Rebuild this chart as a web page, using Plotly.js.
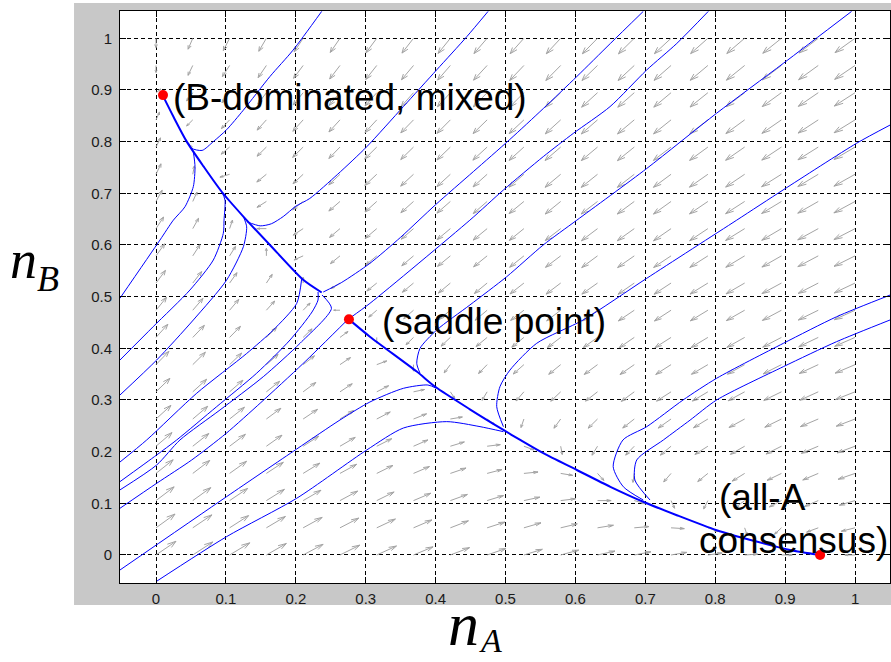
<!DOCTYPE html>
<html><head><meta charset="utf-8">
<script src="https://cdn.plot.ly/plotly-3.0.1.min.js"></script>
<style>html,body{margin:0;padding:0;background:#fff;}#chart{width:891px;height:662px;}</style>
</head><body><div id="chart"></div>
<script>
// ---- quiver grid (base points) ----
const gridX = [0,0.0526,0.1053,0.1579,0.2105,0.2632,0.3158,0.3684,0.4211,0.4737,0.5263,0.5789,0.6316,0.6842,0.7368,0.7895,0.8421,0.8947,0.9474,1];
const gridY = [0,0.0526,0.1053,0.1579,0.2105,0.2632,0.3158,0.3684,0.4211,0.4737,0.5263,0.5789,0.6316,0.6842,0.7368,0.7895,0.8421,0.8947,0.9474,1];
// arrow components, one row per gridY value
const arrowU = [
[.97,.92,.87,.81,.76,.70,.65,.60,.54,.49,.43,.38,.33,.27,.22,.16,.11,.06,.00,-.05],
[.87,.82,.76,.71,.66,.60,.55,.50,.44,.39,.33,.28,.23,.17,.12,.06,.01,-.04,-.10,-.15],
[.78,.72,.67,.62,.56,.51,.45,.40,.35,.29,.24,.18,.13,.08,.02,-.03,-.09,-.14,-.19,-.25],
[.69,.63,.58,.53,.47,.42,.36,.31,.26,.20,.15,.09,.04,-.01,-.07,-.12,-.18,-.23,-.28,-.34],
[.60,.55,.49,.44,.39,.33,.28,.22,.17,.12,.06,.01,-.05,-.10,-.15,-.21,-.26,-.31,-.37,-.42],
[.52,.47,.42,.36,.31,.25,.20,.15,.09,.04,-.02,-.07,-.12,-.18,-.23,-.29,-.34,-.39,-.45,-.50],
[.45,.40,.34,.29,.23,.18,.13,.07,.02,-.04,-.09,-.14,-.20,-.25,-.31,-.36,-.41,-.47,-.52,-.58],
[.38,.33,.27,.22,.17,.11,.06,.00,-.05,-.10,-.16,-.21,-.27,-.32,-.37,-.43,-.48,-.54,-.59,-.64],
[.32,.27,.21,.16,.10,.05,.00,-.06,-.11,-.17,-.22,-.27,-.33,-.38,-.44,-.49,-.54,-.60,-.65,-.71],
[.26,.21,.15,.10,.05,-.01,-.06,-.12,-.17,-.22,-.28,-.33,-.38,-.44,-.49,-.55,-.60,-.65,-.71,-.76],
[.21,.16,.10,.05,.00,-.06,-.11,-.17,-.22,-.27,-.33,-.38,-.44,-.49,-.54,-.60,-.65,-.71,-.76,-.81],
[.17,.11,.06,.00,-.05,-.10,-.16,-.21,-.27,-.32,-.37,-.43,-.48,-.54,-.59,-.64,-.70,-.75,-.81,-.86],
[.13,.07,.02,-.04,-.09,-.14,-.20,-.25,-.31,-.36,-.41,-.47,-.52,-.58,-.63,-.68,-.74,-.79,-.85,-.90],
[.09,.04,-.02,-.07,-.13,-.18,-.23,-.29,-.34,-.39,-.45,-.50,-.56,-.61,-.66,-.72,-.77,-.83,-.88,-.93],
[.06,.01,-.05,-.10,-.15,-.21,-.26,-.32,-.37,-.42,-.48,-.53,-.59,-.64,-.69,-.75,-.80,-.86,-.91,-.96],
[.04,-.02,-.07,-.12,-.18,-.23,-.29,-.34,-.39,-.45,-.50,-.56,-.61,-.66,-.72,-.77,-.83,-.88,-.93,-.99],
[.02,-.03,-.09,-.14,-.20,-.25,-.30,-.36,-.41,-.47,-.52,-.57,-.63,-.68,-.74,-.79,-.84,-.90,-.95,-1.01],
[.01,-.05,-.10,-.15,-.21,-.26,-.32,-.37,-.42,-.48,-.53,-.59,-.64,-.69,-.75,-.80,-.86,-.91,-.96,-1.02],
[.00,-.05,-.11,-.16,-.22,-.27,-.32,-.38,-.43,-.49,-.54,-.59,-.65,-.70,-.76,-.81,-.86,-.92,-.97,-1.02],
[.00,-.06,-.11,-.16,-.22,-.27,-.33,-.38,-.43,-.49,-.54,-.59,-.65,-.70,-.76,-.81,-.86,-.92,-.97,-1.03]];
const arrowV = [
[.90,.81,.71,.63,.55,.47,.40,.34,.28,.23,.18,.14,.10,.07,.05,.03,.01,.00,.00,.00],
[.85,.75,.66,.57,.49,.42,.35,.29,.23,.17,.13,.09,.05,.02,-.01,-.03,-.04,-.05,-.05,-.05],
[.80,.70,.61,.52,.44,.37,.30,.23,.17,.12,.07,.03,.00,-.03,-.06,-.08,-.09,-.10,-.11,-.10],
[.74,.65,.56,.47,.39,.31,.24,.18,.12,.07,.02,-.02,-.06,-.09,-.11,-.13,-.15,-.15,-.16,-.16],
[.69,.59,.50,.42,.34,.26,.19,.13,.07,.02,-.03,-.07,-.11,-.14,-.17,-.18,-.20,-.21,-.21,-.21],
[.64,.54,.45,.36,.28,.21,.14,.08,.02,-.04,-.08,-.13,-.16,-.19,-.22,-.24,-.25,-.26,-.26,-.26],
[.59,.49,.40,.31,.23,.16,.09,.02,-.04,-.09,-.14,-.18,-.21,-.25,-.27,-.29,-.30,-.31,-.32,-.31],
[.53,.44,.35,.26,.18,.10,.03,-.03,-.09,-.14,-.19,-.23,-.27,-.30,-.32,-.34,-.36,-.37,-.37,-.37],
[.48,.38,.29,.21,.13,.05,-.02,-.08,-.14,-.19,-.24,-.28,-.32,-.35,-.38,-.40,-.41,-.42,-.42,-.42],
[.43,.33,.24,.15,.07,.00,-.07,-.14,-.19,-.25,-.29,-.34,-.37,-.40,-.43,-.45,-.46,-.47,-.47,-.47],
[.38,.28,.19,.10,.02,-.05,-.12,-.19,-.25,-.30,-.35,-.39,-.42,-.46,-.48,-.50,-.51,-.52,-.53,-.52],
[.32,.23,.13,.05,-.03,-.11,-.18,-.24,-.30,-.35,-.40,-.44,-.48,-.51,-.53,-.55,-.57,-.58,-.58,-.58],
[.27,.17,.08,.00,-.08,-.16,-.23,-.29,-.35,-.40,-.45,-.49,-.53,-.56,-.59,-.61,-.62,-.63,-.63,-.63],
[.22,.12,.03,-.06,-.14,-.21,-.28,-.35,-.40,-.46,-.50,-.55,-.58,-.61,-.64,-.66,-.67,-.68,-.68,-.68],
[.17,.07,-.02,-.11,-.19,-.27,-.33,-.40,-.46,-.51,-.56,-.60,-.64,-.67,-.69,-.71,-.73,-.73,-.74,-.73],
[.11,.02,-.08,-.16,-.24,-.32,-.39,-.45,-.51,-.56,-.61,-.65,-.69,-.72,-.74,-.76,-.78,-.79,-.79,-.79],
[.06,-.04,-.13,-.21,-.30,-.37,-.44,-.50,-.56,-.62,-.66,-.70,-.74,-.77,-.80,-.82,-.83,-.84,-.84,-.84],
[.01,-.09,-.18,-.27,-.35,-.42,-.49,-.56,-.62,-.67,-.72,-.76,-.79,-.82,-.85,-.87,-.88,-.89,-.89,-.89],
[-.04,-.14,-.23,-.32,-.40,-.48,-.55,-.61,-.67,-.72,-.77,-.81,-.85,-.88,-.90,-.92,-.94,-.94,-.95,-.94],
[-.10,-.19,-.29,-.37,-.45,-.53,-.60,-.66,-.72,-.77,-.82,-.86,-.90,-.93,-.95,-.97,-.99,-1.00,-1.00,-1.00]];

// ---- trajectories ----
const t1x = [0.237,0.196,0.163,0.125,0.101,0.082,0.066,0.051,0.046];
const t1y = [1.052,0.977,0.926,0.861,0.823,0.800,0.783,0.787,0.797];
const t2x = [0.475,0.4445,0.4016,0.354,0.3014,0.26,0.22,0.20,0.182,0.165,0.149,0.13];
const t2y = [1.052,1.003,0.939,0.868,0.790,0.737,0.69,0.675,0.655,0.641,0.637,0.645];
const t3x = [0.697,0.65,0.602,0.554,0.506,0.454,0.40,0.35,0.306,0.265,0.2393];
const t3y = [1.052,0.99,0.926,0.864,0.804,0.742,0.678,0.615,0.5645,0.527,0.509];
const t4x = [0.790,0.745,0.702,0.6495,0.597,0.554,0.497,0.449,0.306,0.2775];
const t4y = [1.052,0.990,0.9387,0.8677,0.816,0.771,0.7064,0.648,0.487,0.4587];
const t5x = [0.995,0.8975,0.802,0.702,0.602,0.554,0.5017,0.449,0.4016,0.3777,0.373,0.3777];
const t5y = [1.052,0.9516,0.855,0.748,0.648,0.600,0.5386,0.4838,0.4355,0.40,0.371,0.3517];
const t6x = [1.050,1.0024,0.897,0.8307,0.702,0.611,0.5446,0.5064,0.492,0.4874,0.497];
const t6y = [0.832,0.797,0.7064,0.648,0.5355,0.4548,0.4097,0.358,0.3257,0.287,0.2483];
const t7x = [1.050,0.9735,0.8975,0.802,0.754,0.702,0.668,0.654,0.6686,0.697];
const t7y = [0.503,0.461,0.4097,0.342,0.30,0.2483,0.2226,0.171,0.132,0.1064];
const t8x = [1.050,0.9735,0.8975,0.802,0.764,0.7258,0.6877,0.685,0.7067];
const t8y = [0.4548,0.4128,0.3645,0.300,0.261,0.2226,0.1839,0.1452,0.1064];
const l1x = [-0.0515,0.0057,0.0248,0.0415,0.0534,0.0558,0.0534];
const l1y = [0.497,0.6096,0.648,0.674,0.713,0.7515,0.7805];
const l2x = [-0.0515,-0.004,0.0486,0.082,0.0963,0.0973,0.0987,0.094];
const l2y = [0.3774,0.4419,0.5129,0.5709,0.6226,0.648,0.687,0.703];
const l3x = [-0.0515,0.001,0.0534,0.101,0.125,0.1297,0.125];
const l3y = [0.3097,0.3774,0.4548,0.532,0.5967,0.635,0.655];
const l4x = [-0.0515,-0.0133,0.0582,0.1297,0.1678,0.2013,0.2085];
const l4y = [0.18,0.2226,0.313,0.390,0.4355,0.487,0.5355];
const l5x = [-0.0515,0.001,0.0296,0.0868,0.144,0.1917,0.2232,0.2318,0.2318];
const l5y = [0.142,0.1936,0.2226,0.2871,0.3518,0.4161,0.4703,0.4935,0.509];
const l6x = [-0.0515,0.001,0.0343,0.0915,0.1535,0.206,0.251,0.2375];
const l6y = [0.126,0.1742,0.2226,0.2806,0.3451,0.4097,0.4774,0.5032];
const l7x = [-0.0515,0.001,0.0511,0.10,0.15,0.21,0.2747];
const l7y = [0.0904,0.1388,0.1839,0.235,0.295,0.37,0.4561];
const l8x = [-0.0515,0.101,0.2013,0.2632,0.306,0.354,0.389,0.401];
const l8y = [-0.029,0.1129,0.2051,0.2613,0.2961,0.3226,0.3290,0.3226];
const l9x = [0,0.101,0.2013,0.3014,0.354,0.4159,0.4635,0.497];
const l9y = [-0.0516,0.0355,0.1098,0.2032,0.2458,0.2581,0.2484,0.2387];
const mUpX = [0.237,0.211,0.163,0.125,0.094,0.068,0.044,0.025,0.0105];
const mUpY = [0.508,0.532,0.600,0.655,0.703,0.752,0.800,0.848,0.887];
const mLoX = [0.276,0.306,0.373,0.40,0.449,0.497,0.521,0.554,0.602,0.650,0.697,0.745,0.802,0.859,0.907,0.95];
const mLoY = [0.456,0.4225,0.355,0.325,0.282,0.242,0.2226,0.197,0.1645,0.132,0.103,0.077,0.048,0.026,0.0097,0.0];
const fixX = [0.01,0.276,0.95];
const fixY = [0.89,0.456,0.0];
const fixLabels = ['(B-dominated, mixed)','(saddle point)','(all-A','consensus)'];
const tickVals = [0,0.1,0.2,0.3,0.4,0.5,0.6,0.7,0.8,0.9,1];
const tickText = ['0','0.1','0.2','0.3','0.4','0.5','0.6','0.7','0.8','0.9','1'];

// ---- quiver drawing: compressed length scaling, MATLAB-style heads ----
const ARROW_LEN = 0.04, GAMMA = 0.3, ALPHA = 0.33, BETA = 0.33;
let maxMag = 0;
arrowU.forEach((row, j) => row.forEach((u, i) => { maxMag = Math.max(maxMag, Math.hypot(u, arrowV[j][i])); }));
const qx = [], qy = [];
for (let j = 0; j < gridY.length; j++) {
  for (let i = 0; i < gridX.length; i++) {
    const x = gridX[i], y = gridY[j];
    const m = Math.hypot(arrowU[j][i], arrowV[j][i]);
    if (m === 0) continue;
    const f = ARROW_LEN * Math.pow(m / maxMag, GAMMA) / m;
    const u = arrowU[j][i] * f, v = arrowV[j][i] * f;
    qx.push(x, x + u, null); qy.push(y, y + v, null);
    qx.push(x + u - ALPHA * (u + BETA * v), x + u, x + u - ALPHA * (u - BETA * v), null);
    qy.push(y + v - ALPHA * (v - BETA * u), y + v, y + v - ALPHA * (v + BETA * u), null);
  }
}
const traces = [{x: qx, y: qy, mode: 'lines', line: {color: '#a4a4a4', width: 1}, hoverinfo: 'skip'}];
const curves = [[t1x,t1y],[t2x,t2y],[t3x,t3y],[t4x,t4y],[t5x,t5y],[t6x,t6y],[t7x,t7y],[t8x,t8y],
  [l1x,l1y],[l2x,l2y],[l3x,l3y],[l4x,l4y],[l5x,l5y],[l6x,l6y],[l7x,l7y],[l8x,l8y],[l9x,l9y]];
curves.forEach(c => traces.push({x: c[0], y: c[1], mode: 'lines',
  line: {color: '#0000ff', width: 1, shape: 'spline', smoothing: 0.7}, hoverinfo: 'skip'}));
[[mUpX,mUpY],[mLoX,mLoY]].forEach(c => traces.push({x: c[0], y: c[1], mode: 'lines',
  line: {color: '#0000ff', width: 2, shape: 'spline', smoothing: 0.7}, hoverinfo: 'skip'}));
traces.push({x: fixX, y: fixY, mode: 'markers', marker: {color: '#ff0000', size: 10}, hoverinfo: 'skip'});

const axisCommon = {
  showline: true, linecolor: '#000', linewidth: 1, mirror: 'ticks',
  ticks: 'inside', ticklen: 6, tickcolor: '#000', tickwidth: 1,
  showgrid: true, gridcolor: '#000', gridwidth: 1, griddash: '4px,3px',
  zeroline: false, tickmode: 'array', tickvals: tickVals, ticktext: tickText,
  tickfont: {family: 'Liberation Sans, Arial, sans-serif', size: 15, color: '#1a1a1a'},
  ticklabelstandoff: 4
};
const labelFont = {family: 'Liberation Sans, Arial, sans-serif', size: 37, color: '#000'};
const serif = 'Liberation Serif, Times New Roman, serif';
const layout = {
  width: 891, height: 662, showlegend: false,
  margin: {l: 120, r: 1, t: 11, b: 79, pad: 0},
  paper_bgcolor: '#fff', plot_bgcolor: '#fff',
  xaxis: Object.assign({}, axisCommon, {range: [-0.0515, 1.050], ticklabelstandoff: 2}),
  yaxis: Object.assign({}, axisCommon, {range: [-0.0542, 1.0528]}),
  shapes: [
    {type: 'rect', xref: 'paper', yref: 'paper', x0: -0.0597, x1: 1.02, y0: -0.0385, y1: 1.014,
     fillcolor: '#c8c8c8', line: {width: 0}, layer: 'below'},
    {type: 'rect', xref: 'paper', yref: 'paper', x0: 0, x1: 1, y0: 0, y1: 1,
     fillcolor: '#fff', line: {width: 0}, layer: 'below'}
  ],
  annotations: [
    {x: 0.021, y: 0.886, xref: 'x', yref: 'y', text: fixLabels[0], showarrow: false, xanchor: 'left', yanchor: 'middle', font: labelFont},
    {x: 0.321, y: 0.451, xref: 'x', yref: 'y', text: fixLabels[1], showarrow: false, xanchor: 'left', yanchor: 'middle', font: labelFont},
    {x: 0.802, y: 0.112, xref: 'x', yref: 'y', text: fixLabels[2], showarrow: false, xanchor: 'left', yanchor: 'middle', font: labelFont},
    {x: 0.774, y: 0.029, xref: 'x', yref: 'y', text: fixLabels[3], showarrow: false, xanchor: 'left', yanchor: 'middle', font: labelFont},
    {x: -0.1455, y: 0.565, xref: 'paper', yref: 'paper', text: '<i>n</i>', showarrow: false, xanchor: 'left', yanchor: 'middle', font: {family: serif, size: 54, color: '#000'}},
    {x: -0.1105, y: 0.531, xref: 'paper', yref: 'paper', text: '<i>B</i>', showarrow: false, xanchor: 'left', yanchor: 'middle', font: {family: serif, size: 36, color: '#000'}},
    {x: 0.4234, y: -0.0717, xref: 'paper', yref: 'paper', text: '<i>n</i>', showarrow: false, xanchor: 'left', yanchor: 'middle', font: {family: serif, size: 62, color: '#000'}},
    {x: 0.4636, y: -0.101, xref: 'paper', yref: 'paper', text: '<i>A</i>', showarrow: false, xanchor: 'left', yanchor: 'middle', font: {family: serif, size: 34, color: '#000'}}
  ]
};
Plotly.newPlot('chart', traces, layout, {staticPlot: true, displayModeBar: false});
</script>
</body></html>
